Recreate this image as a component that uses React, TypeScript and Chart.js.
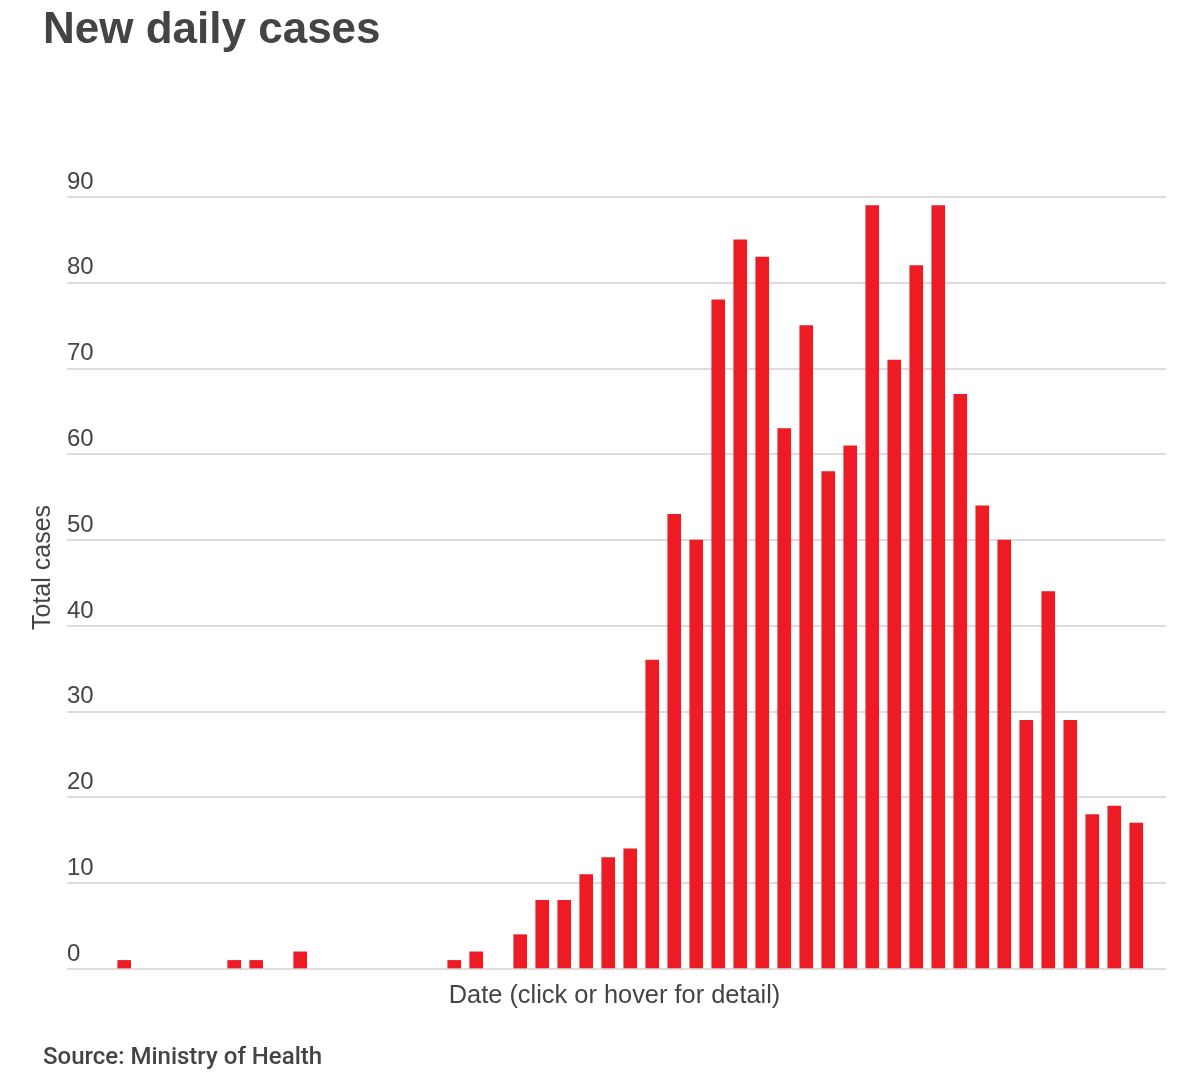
import React, { useEffect, useRef } from "react";
import { Chart, registerables } from "chart.js";

Chart.register(...registerables);

// Days since 28 Feb (first reported case), only days with new cases
const dayIndex = [0, 5, 6, 8, 15, 16, 18, 19, 20, 21, 22, 23, 24, 25, 26, 27, 28, 29, 30, 31, 32, 33, 34, 35, 36, 37, 38, 39, 40, 41, 42, 43, 44, 45, 46];
const newCases = [1, 1, 1, 2, 1, 2, 4, 8, 8, 11, 13, 14, 36, 53, 50, 78, 85, 83, 63, 75, 58, 61, 89, 71, 82, 89, 67, 54, 50, 29, 44, 29, 18, 19, 17];
const yTickValues = [0, 10, 20, 30, 40, 50, 60, 70, 80, 90];

const TITLE = "New daily cases";
const SOURCE = "Source: Ministry of Health";
const X_TITLE = "Date (click or hover for detail)";
const Y_TITLE = "Total cases";

const TEXT_COLOR = "#444444";
const BAR_COLOR = "#ed1c24";

const axisTitlesPlugin = {
  id: "axisTitles",
  afterDraw(chart: any) {
    const { ctx, chartArea } = chart;
    ctx.save();
    ctx.fillStyle = TEXT_COLOR;
    ctx.textAlign = "center";
    ctx.textBaseline = "alphabetic";
    ctx.font = "25.4px 'Liberation Sans', Arial, sans-serif";
    ctx.fillText(X_TITLE, (chartArea.left + chartArea.right) / 2 - 2, chartArea.bottom + 34);
    ctx.font = "25px 'Liberation Sans', Arial, sans-serif";
    ctx.translate(50, 567.5);
    ctx.rotate(-Math.PI / 2);
    ctx.fillText(Y_TITLE, 0, 0);
    ctx.restore();
  },
};

export default function App() {
  const canvasRef = useRef<HTMLCanvasElement | null>(null);

  useEffect(() => {
    const canvas = canvasRef.current;
    if (!canvas) return;
    const chart = new Chart(canvas, {
      type: "bar",
      data: {
        datasets: [
          {
            label: "New cases",
            data: dayIndex.map((d, i) => ({ x: d, y: newCases[i] })),
            backgroundColor: BAR_COLOR,
            borderWidth: 0,
            barThickness: 13,
          },
        ],
      },
      options: {
        animation: false,
        responsive: false,
        devicePixelRatio: 1,
        layout: { padding: { left: 67, right: 34, top: 197, bottom: 112 } },
        plugins: {
          legend: { display: false },
          title: { display: false },
          tooltip: { enabled: false },
        },
        scales: {
          x: {
            type: "linear",
            display: false,
            offset: false,
            min: -2.6,
            max: 47.35,
          },
          y: {
            min: 0,
            max: 90,
            afterBuildTicks: (scale: any) => {
              scale.ticks = yTickValues.map((v) => ({ value: v }));
            },
            border: { display: false },
            grid: { color: "#dddddd", lineWidth: 2, drawTicks: false },
            ticks: {
              mirror: true,
              padding: 0,
              labelOffset: -15,
              color: TEXT_COLOR,
              font: { family: "'Liberation Sans', Arial, sans-serif", size: 24 },
            },
          },
        },
      },
      plugins: [axisTitlesPlugin],
    });
    return () => chart.destroy();
  }, []);

  return (
    <div style={{ position: "absolute", left: 0, top: 0, width: 1200, height: 1081, background: "#fff" }}>
      <canvas ref={canvasRef} width={1200} height={1081} style={{ position: "absolute", left: 0, top: 0 }} />
      <div
        style={{
          position: "absolute",
          left: 43,
          top: 6,
          fontFamily: "'Liberation Sans', Arial, sans-serif",
          fontWeight: 700,
          fontSize: 44,
          lineHeight: "44px",
          color: TEXT_COLOR,
          whiteSpace: "nowrap",
        }}
      >
        {TITLE}
      </div>
      <div
        style={{
          position: "absolute",
          left: 43,
          top: 1044,
          fontFamily: "Roboto, sans-serif",
          fontWeight: 500,
          fontSize: 24,
          lineHeight: "24px",
          color: TEXT_COLOR,
          whiteSpace: "nowrap",
        }}
      >
        {SOURCE}
      </div>
    </div>
  );
}
